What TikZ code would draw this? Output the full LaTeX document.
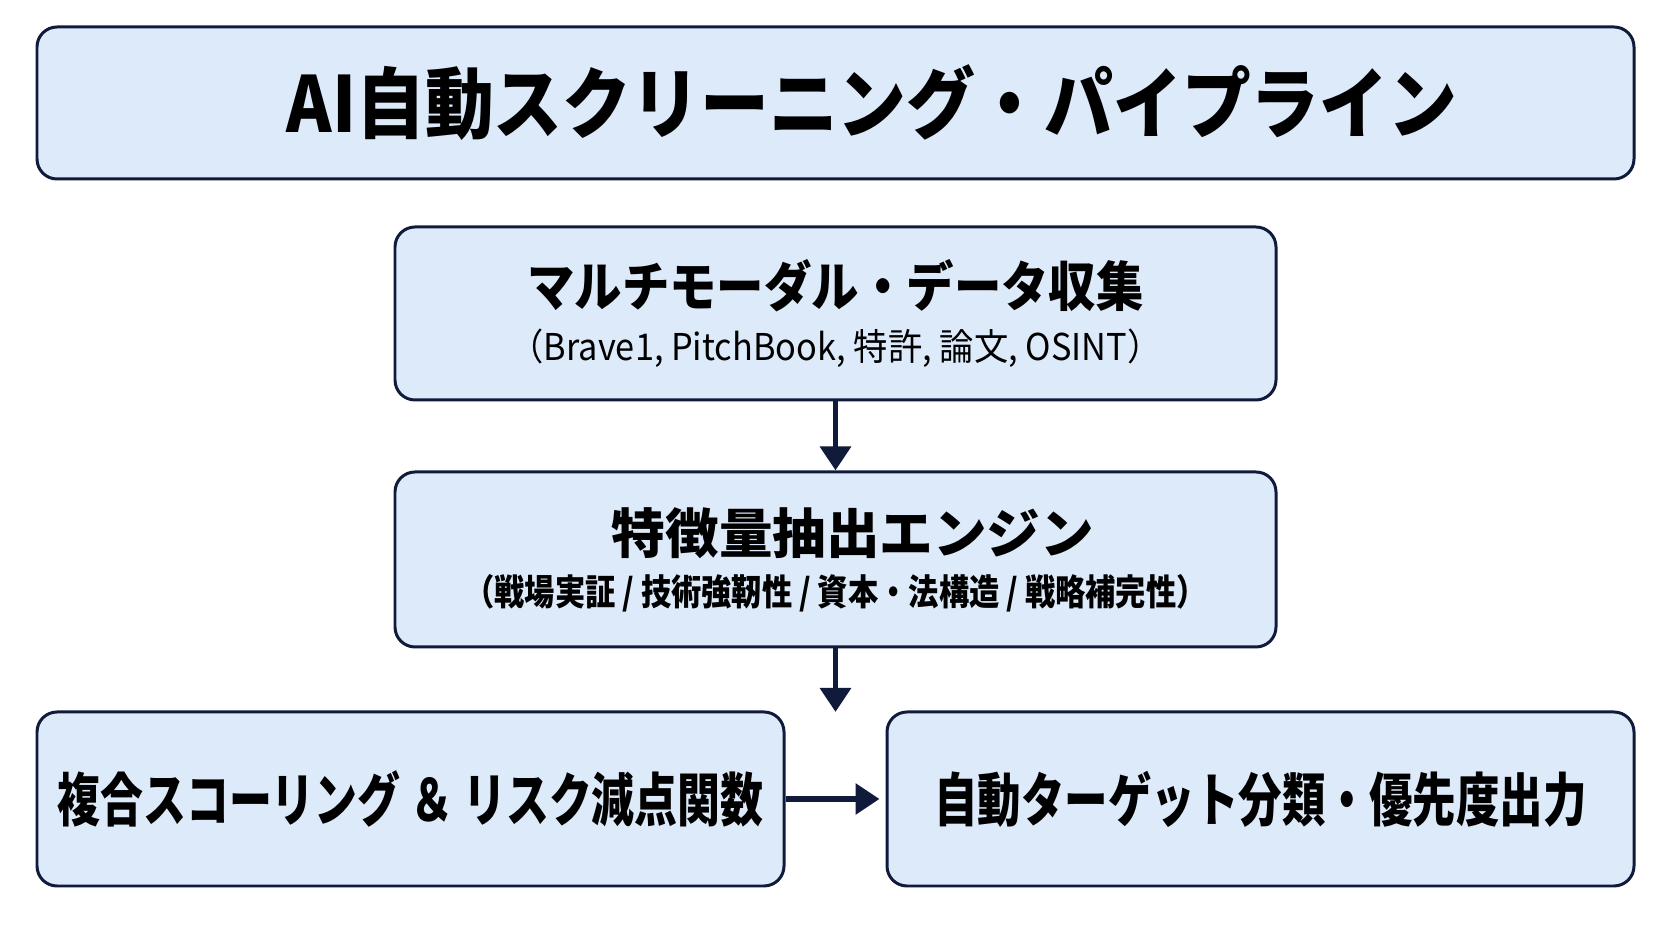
\documentclass[tikz,border=0pt]{standalone}
\usepackage{fontspec}
\setmainfont{Noto Sans CJK JP}
\usepackage{tikz}
\usetikzlibrary{arrows.meta,positioning}

\definecolor{navy}{HTML}{101A3A}
\definecolor{paleblue}{HTML}{DDEAF9}
\newcommand{\jpsize}[2]{\fontsize{#1}{#1}\selectfont\addfontfeature{FakeStretch=#2}}

\begin{document}
\begin{tikzpicture}
	\tikzstyle{Box}		= [draw=navy, line width=1.7pt, fill=paleblue, rounded corners=0.4cm, inner sep=0pt, align=center, font=\bfseries]
	\tikzstyle{Wide}	= [minimum width=17.62cm]
	\tikzstyle{Half}	= [minimum width=14.94cm, minimum height=3.48cm]
	\tikzstyle{Flow}	= [draw=navy, line width=3.4pt, -{Triangle[length=0.48cm, width=0.6cm]}]

	\useasboundingbox (0,0) rectangle (33.44,18.82);

	\node (title) at (16.71,16.76) [Box][minimum width=31.94cm, minimum height=3.04cm] {\hspace*{1.46cm}\jpsize{44}{0.89}AI自動スクリーニング・パイプライン};
	\node (collect) at (16.71,12.55) [Box][Wide][minimum height=3.46cm] {\jpsize{30.5}{0.885}マルチモーダル・データ収集\\[9pt]\jpsize{21}{0.93}\mdseries（Brave1, PitchBook, 特許, 論文, OSINT）};
	\node (extract) [Box][Wide][minimum height=3.5cm, below=1.38cm of collect] {\hspace*{0.7cm}\jpsize{30.5}{1}特徴量抽出エンジン\\[8pt]\jpsize{20.5}{0.84}（戦場実証 / 技術強靭性 / 資本・法構造 / 戦略補完性）};
	\node (score) at (8.21,2.84) [Box][Half] {\jpsize{33}{0.74}複合スコーリング ＆ リスク減点関数};
	\node (target) at (25.21,2.84) [Box][Half] {\jpsize{33}{0.75}自動ターゲット分類・優先度出力};
	\coordinate (split) at (16.71,4.58);

	\draw [Flow] (collect) -- (extract);
	\draw [Flow] (extract) -- (split);
	\draw [Flow, shorten >=0.12cm] (score) -- (target);
\end{tikzpicture}
\end{document}
